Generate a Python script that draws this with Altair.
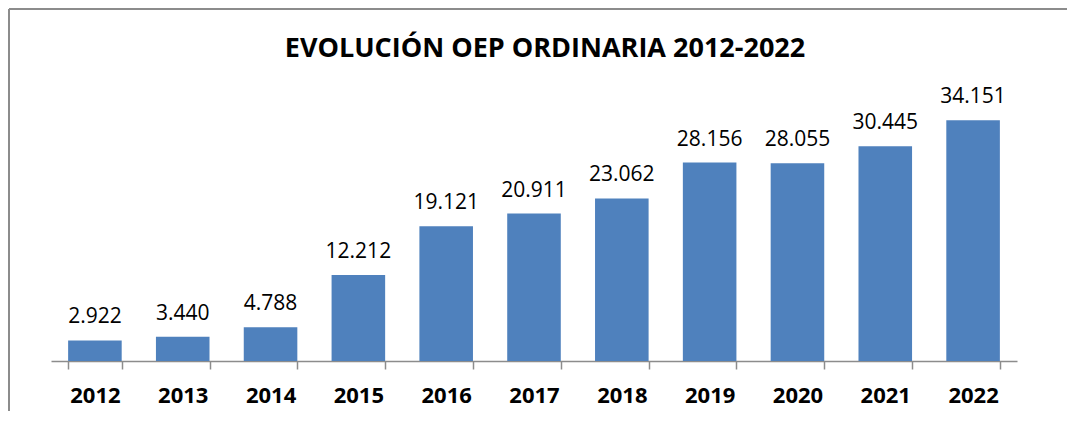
import altair as alt
import pandas as pd

years = ["2012", "2013", "2014", "2015", "2016", "2017", "2018", "2019", "2020", "2021", "2022"]
values = [2922, 3440, 4788, 12212, 19121, 20911, 23062, 28156, 28055, 30445, 34151]
title_text = "EVOLUCIÓN OEP ORDINARIA 2012-2022"

df = pd.DataFrame({
    "year": years,
    "value": values,
    "label": [f"{v:,}".replace(",", ".") for v in values],
})

FONT = "Open Sans"
W, H = 966, 282
PAD = {"left": 43, "top": 71, "right": 50, "bottom": 50}

x_enc = alt.X(
    "year:N",
    sort=years,
    title=None,
    scale=alt.Scale(paddingInner=0.39, paddingOuter=0.195),
    axis=alt.Axis(
        tickBand="extent",
        tickSize=8,
        tickColor="#8c8c8c",
        domainColor="#8c8c8c",
        domainWidth=1.5,
        tickWidth=1.5,
        labelAngle=0,
        labelFont=FONT,
        labelFontSize=22,
        labelFontWeight="bold",
        labelColor="#000000",
        labelPadding=16,
        grid=False,
    ),
)
y_enc = alt.Y("value:Q", scale=alt.Scale(domain=[0, 40000]), axis=None)

base = alt.Chart(df)

bars = base.mark_bar(color="#4F81BD").encode(x=x_enc, y=y_enc)

labels = base.mark_text(
    font=FONT, fontSize=21, color="#000000", baseline="alphabetic", dy=-17
).encode(x=x_enc, y=y_enc, text="label:N")

title = alt.Chart(pd.DataFrame({"t": [title_text]})).mark_text(
    font=FONT, fontSize=27, fontWeight="bold", color="#000000", baseline="alphabetic"
).encode(x=alt.value(494), y=alt.value(-22), text="t:N")

one = pd.DataFrame({"a": [0]})
frame_top = alt.Chart(one).mark_rule(color="#8c8c8c", strokeWidth=2).encode(
    x=alt.value(-42), x2=alt.value(W + PAD["right"]), y=alt.value(-70)
)
frame_left = alt.Chart(one).mark_rule(color="#8c8c8c", strokeWidth=2).encode(
    x=alt.value(-42), y=alt.value(-70), y2=alt.value(H + PAD["bottom"])
)

chart = alt.layer(frame_top, frame_left, bars, labels, title).properties(
    width=W,
    height=H,
    autosize=alt.AutoSizeParams(type="none"),
    padding=PAD,
).configure(
    background="white",
    view=alt.ViewConfig(stroke=None, strokeWidth=0),
)

chart.save("out.html", embed_options={"renderer": "svg", "actions": False})
